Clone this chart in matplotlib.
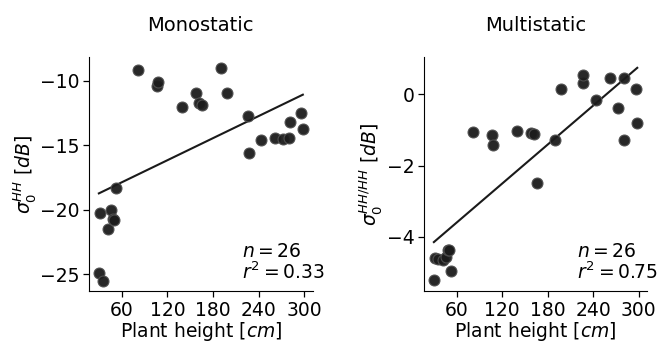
import numpy as np
import matplotlib
matplotlib.use("Agg")
import matplotlib.pyplot as plt

# plant heights [cm], shared by both panels
height = [30, 31, 35, 42, 46, 48, 50, 53, 82, 107, 108, 139, 158, 162, 166,
          190, 198, 226, 227, 243, 262, 272, 280, 281, 296, 298]

# monostatic sigma0 HH [dB]
mono = [-24.9, -20.24, -25.5, -21.5, -20.0, -20.7, -20.8, -18.35, -9.17, -10.4,
        -10.1, -12.07, -10.98, -11.76, -11.9, -9.04, -10.98, -12.74, -15.64,
        -14.6, -14.47, -14.55, -14.42, -13.23, -12.48, -13.78]

# multistatic sigma0 HH/HH [dB]
multi = [-5.22, -4.58, -4.61, -4.64, -4.56, -4.38, -4.36, -4.96, -1.05, -1.15,
         -1.41, -1.02, -1.08, -1.11, -2.49, -1.29, 0.16, 0.33, 0.56, -0.16,
         0.45, -0.38, -1.29, 0.45, 0.16, -0.8]

titles = ["Monostatic", "Multistatic"]
ylabels = [r"$\sigma_0^{HH}\ [dB]$", r"$\sigma_0^{HH/HH}\ [dB]$"]
ylims = [(-26.3, -8.2), (-5.52, 1.04)]
yticks = [[-25, -20, -15, -10], [-4, -2, 0]]
xticks = [60, 120, 180, 240, 300]

plt.rcParams["font.size"] = 13.5

fig = plt.figure(figsize=(6.62, 3.42), dpi=100)
boxes = [[0.1344, 0.149, 0.338, 0.683], [0.6405, 0.149, 0.337, 0.683]]

for i, y in enumerate([mono, multi]):
    ax = fig.add_axes(boxes[i])
    x = np.array(height, dtype=float)
    y = np.array(y)
    ax.scatter(x, y, s=62, color="#1c1c1c", edgecolors="#505050",
               linewidths=0.8, alpha=0.95, zorder=3)
    # linear fit
    slope, icpt = np.polyfit(x, y, 1)
    xx = np.array([x.min(), x.max()])
    ax.plot(xx, slope * xx + icpt, color="#1a1a1a", lw=1.5, zorder=2)
    r2 = np.corrcoef(x, y)[0, 1] ** 2
    ax.text(0.685, 0.035, "$n = %d$\n$r^2 = %.2f$" % (len(x), r2),
            transform=ax.transAxes, ha="left", va="bottom", fontsize=13.5,
            linespacing=1.0)
    ax.set_xlim(17, 311)
    ax.set_ylim(*ylims[i])
    ax.set_xticks(xticks)
    ax.set_yticks(yticks[i])
    ax.set_xlabel("Plant height $[cm]$", labelpad=0)
    ax.set_ylabel(ylabels[i], labelpad=1)
    ax.set_title(titles[i], pad=19, fontsize=14)
    ax.spines["top"].set_visible(False)
    ax.spines["right"].set_visible(False)
    ax.tick_params(length=4, width=0.9, pad=3)

fig.savefig("out.png", dpi=100)
